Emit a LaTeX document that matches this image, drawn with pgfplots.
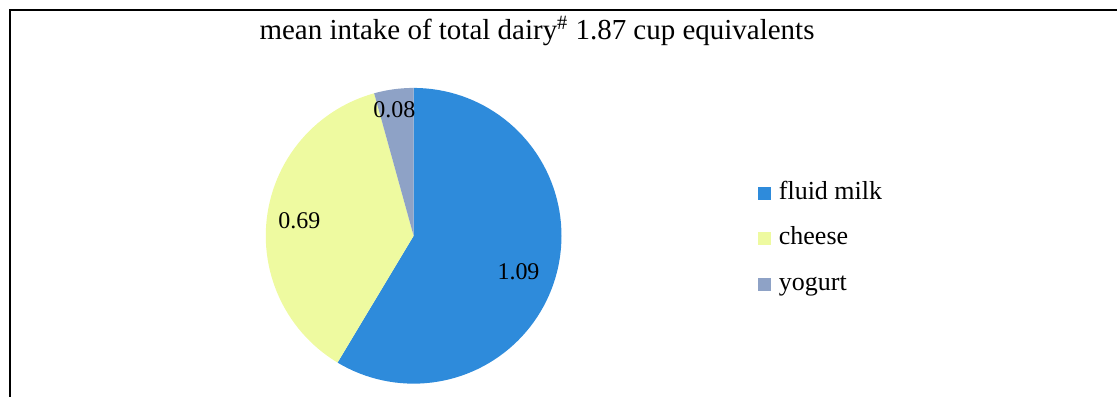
\documentclass[border=0pt]{standalone}
\usepackage{pgfplots}
\pgfplotsset{compat=1.18}
\usepackage{pgfplotstable}
\usepackage{fontspec}
\setmainfont{Liberation Serif}

\definecolor{milk}{RGB}{46,139,219}
\definecolor{cheese}{RGB}{238,250,160}
\definecolor{yogurt}{RGB}{142,162,198}

% mean intake, cup equivalents
\pgfplotstableread{
item   value
milk   1.09
cheese 0.69
yogurt 0.08
}\dairy

\begin{document}
\begin{tikzpicture}
\pgfplotstablegetelem{0}{value}\of\dairy \let\vmilk\pgfplotsretval
\pgfplotstablegetelem{1}{value}\of\dairy \let\vcheese\pgfplotsretval
\pgfplotstablegetelem{2}{value}\of\dairy \let\vyogurt\pgfplotsretval
\pgfmathsetmacro\tot{\vmilk+\vcheese+\vyogurt}
% slice boundaries, clockwise from 12 o'clock
\pgfmathsetmacro\aA{90}
\pgfmathsetmacro\aB{\aA-360*\vmilk/\tot}
\pgfmathsetmacro\aC{\aB-360*\vcheese/\tot}
\pgfmathsetmacro\aD{\aC-360*\vyogurt/\tot}
\pgfmathsetmacro\mA{(\aA+\aB)/2}
\pgfmathsetmacro\mB{(\aB+\aC)/2}
\pgfmathsetmacro\mC{(\aC+\aD)/2}
\def\cx{414}\def\cy{161}\def\R{148}
\begin{axis}[
  scale only axis, width=559pt, height=198.5pt,
  xmin=0, xmax=1118, ymin=0, ymax=397,
  hide axis, clip=false,
  legend style={draw=none, fill=none, at={(axis cs:758,218)}, anchor=north west,
    font=\fontsize{13}{15}\selectfont, row sep=8.75pt, column sep=3pt, inner sep=0pt,
    nodes={inner sep=1pt, text height=9pt, text depth=3pt}},
  legend cell align=left,
  legend image code/.code={\fill[#1] (0pt,-3.3pt) rectangle (6.6pt,3.3pt);},
]
% full canvas and outer frame
\path (axis cs:0,0) rectangle (axis cs:1118,397);
\draw[line width=1pt] (axis cs:10,0) -- (axis cs:10,387) -- (axis cs:1118,387);
\node[font=\fontsize{14.5}{16}\selectfont, anchor=base] at (axis cs:537.5,357)
  {mean intake of total dairy\textsuperscript{\#} 1.87 cup equivalents};

\addplot[fill=milk, draw=none, domain=\aB:\aA, samples=90, variable=\t]
  ({\cx+\R*cos(\t)},{\cy+\R*sin(\t)}) -- (axis cs:\cx,\cy) -- cycle;
\addlegendentry{fluid milk}
\addplot[fill=cheese, draw=none, domain=\aC:\aB, samples=60, variable=\t]
  ({\cx+\R*cos(\t)},{\cy+\R*sin(\t)}) -- (axis cs:\cx,\cy) -- cycle;
\addlegendentry{cheese}
\addplot[fill=yogurt, draw=none, domain=\aD:\aC, samples=12, variable=\t]
  ({\cx+\R*cos(\t)},{\cy+\R*sin(\t)}) -- (axis cs:\cx,\cy) -- cycle;
\addlegendentry{yogurt}

% value labels
\node[font=\fontsize{12}{14}\selectfont] at (axis cs:{\cx+0.75*\R*cos(\mA-3.5)},{\cy+0.75*\R*sin(\mA-3.5)}) {\vmilk};
\node[font=\fontsize{12}{14}\selectfont] at (axis cs:{\cx+0.78*\R*cos(\mB)},{\cy+0.78*\R*sin(\mB)}) {\vcheese};
\node[font=\fontsize{12}{14}\selectfont] at (axis cs:{\cx+0.86*\R*cos(\mC+1)},{\cy+0.86*\R*sin(\mC+1)}) {\vyogurt};
\end{axis}
\end{tikzpicture}
\end{document}
